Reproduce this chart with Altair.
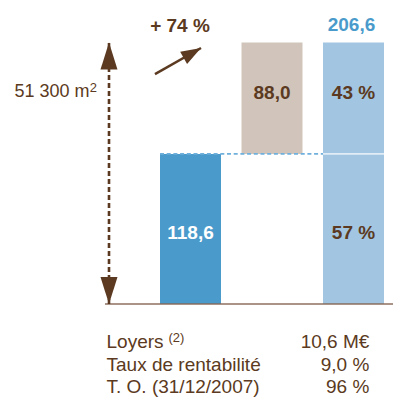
import altair as alt
import pandas as pd

# ---- values ----
existing = 118.6
added = 88.0
total = 206.6
growth_label = "+ 74 %"
surface_main = "51 300 m"
surface_sup = "2"
total_label = "206,6"

slots = [1, 2, 3, 3]
seg_start = [0.0, existing, 0.0, existing]
seg_end = [existing, total, existing, total]
seg_text = ["118,6", "88,0", "57 %", "43 %"]
seg_kind = ["existant", "acquis", "total_bas", "total_haut"]
seg_level = ["bas", "haut", "bas", "haut"]

table_rows = ["Loyers", "Taux de rentabilité", "T. O. (31/12/2007)"]
table_values = ["10,6 M€", "9,0 %", "96 %"]
table_notes = ["(2)", "", ""]

# ---- style ----
FONT = "Liberation Sans"
BROWN = "#5b3a21"
DARK_BLUE = "#4a9bcb"
BEIGE = "#d1c5bb"
LIGHT_BLUE = "#a2c5e2"
HALF = 0.3742
X_MAX = 3.4847

xs = alt.Scale(domain=[-1.2393, X_MAX], nice=False, zero=False)
ys = alt.Scale(domain=[-73.49, 233.9], nice=False, zero=False)

seg = pd.DataFrame({"slot": slots, "start": seg_start, "end": seg_end,
                    "txt": seg_text, "kind": seg_kind, "level": seg_level})

bars = alt.Chart(seg).transform_calculate(
    x0=f"datum.slot - {HALF}", x1=f"datum.slot + {HALF}"
).mark_bar().encode(
    x=alt.X("x0:Q", scale=xs, axis=None), x2="x1:Q",
    y=alt.Y("start:Q", scale=ys, axis=None), y2="end:Q",
    color=alt.Color("kind:N", scale=alt.Scale(domain=seg_kind,
                    range=[DARK_BLUE, BEIGE, LIGHT_BLUE, LIGHT_BLUE]), legend=None),
)

def seg_labels(level, dy):
    return alt.Chart(seg).transform_filter(f"datum.level == '{level}'").transform_calculate(
        mid="(datum.start + datum.end) / 2"
    ).mark_text(font=FONT, fontSize=19, fontWeight="bold", baseline="alphabetic",
                align="center", dy=dy).encode(
        x=alt.X("slot:Q", scale=xs, axis=None),
        y=alt.Y("mid:Q", scale=ys, axis=None),
        text="txt:N",
        color=alt.condition("datum.kind == 'existant'", alt.value("#ffffff"), alt.value(BROWN)),
    )

lab_low = seg_labels("bas", 10)
lab_high = seg_labels("haut", 1)

ref = pd.DataFrame({"v": [existing]})
blue_dash = alt.Chart(ref).mark_rule(color="#6fb0dc", strokeWidth=1.6,
                                     strokeDash=[4, 2.7]).encode(
    x=alt.X("a:Q", scale=xs, axis=None), x2="b:Q",
    y=alt.Y("v:Q", scale=ys, axis=None),
).transform_calculate(a=f"1 - {HALF}", b=f"3 - {HALF}")

white_sep = alt.Chart(ref).mark_rule(color="#e0ecf6", strokeWidth=1.6).encode(
    x=alt.X("a:Q", scale=xs, axis=None), x2="b:Q",
    y=alt.Y("v:Q", scale=ys, axis=None),
).transform_calculate(a=f"3 - {HALF}", b=f"3 + {HALF}")

base = pd.DataFrame({"a": [-0.049], "b": [X_MAX], "v": [0.0]})
baseline = alt.Chart(base).mark_rule(color="#846654", opacity=0.7, strokeWidth=2).encode(
    x=alt.X("a:Q", scale=xs, axis=None), x2="b:Q",
    y=alt.Y("v:Q", scale=ys, axis=None),
)

vert = pd.DataFrame({"x": [0.0], "lo": [0.0], "hi": [total]})
vdash = alt.Chart(vert).mark_rule(color=BROWN, strokeWidth=2.6, strokeDash=[5, 3]).encode(
    x=alt.X("x:Q", scale=xs, axis=None),
    y=alt.Y("lo:Q", scale=ys, axis=None), y2="hi:Q",
)
head_top = alt.Chart(vert).mark_point(filled=True, color=BROWN, opacity=1, size=729,
                                      shape="M0,0L0.63,2L-0.63,2Z", strokeWidth=0).encode(
    x=alt.X("x:Q", scale=xs, axis=None),
    y=alt.Y("hi:Q", scale=ys, axis=None),
)
head_bot = alt.Chart(vert).mark_point(filled=True, color=BROWN, opacity=1, size=729,
                                      shape="M0,0L0.63,-2L-0.63,-2Z", strokeWidth=0).encode(
    x=alt.X("x:Q", scale=xs, axis=None),
    y=alt.Y("lo:Q", scale=ys, axis=None),
)

diag_df = pd.DataFrame({"x0": [0.564], "y0": [181.7], "x1": [1.129], "y1": [202.3]})
diag = alt.Chart(diag_df).mark_rule(color=BROWN, strokeWidth=2.5).encode(
    x=alt.X("x0:Q", scale=xs, axis=None), x2="x1:Q",
    y=alt.Y("y0:Q", scale=ys, axis=None), y2="y1:Q",
)
diag_head = alt.Chart(diag_df).mark_point(filled=True, color=BROWN, opacity=1, size=400,
                                          angle=60.5, shape="M0,0L0.7,2L-0.7,2Z",
                                          strokeWidth=0).encode(
    x=alt.X("x1:Q", scale=xs, axis=None),
    y=alt.Y("y1:Q", scale=ys, axis=None),
)

tot_df = pd.DataFrame({"x": [3.0], "v": [total], "t": [total_label]})
txt_total = alt.Chart(tot_df).mark_text(font=FONT, fontSize=19, fontWeight="bold",
                                        color=DARK_BLUE, baseline="alphabetic",
                                        align="center", dx=-2, dy=-11.5).encode(
    x=alt.X("x:Q", scale=xs, axis=None), y=alt.Y("v:Q", scale=ys, axis=None), text="t:N")

gr_df = pd.DataFrame({"x": [0.871], "v": [total], "t": [growth_label]})
txt_growth = alt.Chart(gr_df).mark_text(font=FONT, fontSize=19, fontWeight="bold",
                                        color=BROWN, baseline="alphabetic",
                                        align="center", dy=-11).encode(
    x=alt.X("x:Q", scale=xs, axis=None), y=alt.Y("v:Q", scale=ys, axis=None), text="t:N")

sf_df = pd.DataFrame({"x": [-0.239], "xs": [-0.235], "v": [163.6],
                      "t": [surface_main], "s": [surface_sup]})
txt_surface = alt.Chart(sf_df).mark_text(font=FONT, fontSize=18, color=BROWN,
                                         baseline="alphabetic", align="right").encode(
    x=alt.X("x:Q", scale=xs, axis=None), y=alt.Y("v:Q", scale=ys, axis=None), text="t:N")
txt_surface_sup = alt.Chart(sf_df).mark_text(font=FONT, fontSize=13, color=BROWN,
                                             baseline="alphabetic", align="left",
                                             dy=-5).encode(
    x=alt.X("xs:Q", scale=xs, axis=None), y=alt.Y("v:Q", scale=ys, axis=None), text="s:N")

main = alt.layer(bars, blue_dash, white_sep, baseline, vdash, head_top, head_bot,
                 diag, diag_head, lab_low, lab_high, txt_total, txt_growth,
                 txt_surface, txt_surface_sup)

tab = pd.DataFrame({"row": table_rows, "val": table_values, "note": table_notes})
tys = alt.Scale(type="point", domain=table_rows, range=[340, 385], padding=0)
tab_left = alt.Chart(tab).mark_text(font=FONT, fontSize=19, color=BROWN,
                                    baseline="alphabetic", align="left").encode(
    x=alt.value(98.5), y=alt.Y("row:N", scale=tys, axis=None), text="row:N")
tab_note = alt.Chart(tab).mark_text(font=FONT, fontSize=13, color=BROWN,
                                    baseline="alphabetic", align="left", dy=-6).encode(
    x=alt.value(160.5), y=alt.Y("row:N", scale=tys, axis=None), text="note:N")
tab_right = alt.Chart(tab).mark_text(font=FONT, fontSize=19, color=BROWN,
                                     baseline="alphabetic", align="right").encode(
    x=alt.value(361.3), y=alt.Y("row:N", scale=tys, axis=None), text="val:N")
table = alt.layer(tab_left, tab_note, tab_right)

chart = alt.layer(main, table).resolve_scale(y="independent").properties(
    width=385, height=389, autosize="none", padding=0
).configure_view(stroke=None)

chart.save("out.html", embed_options={"renderer": "svg", "actions": False})
